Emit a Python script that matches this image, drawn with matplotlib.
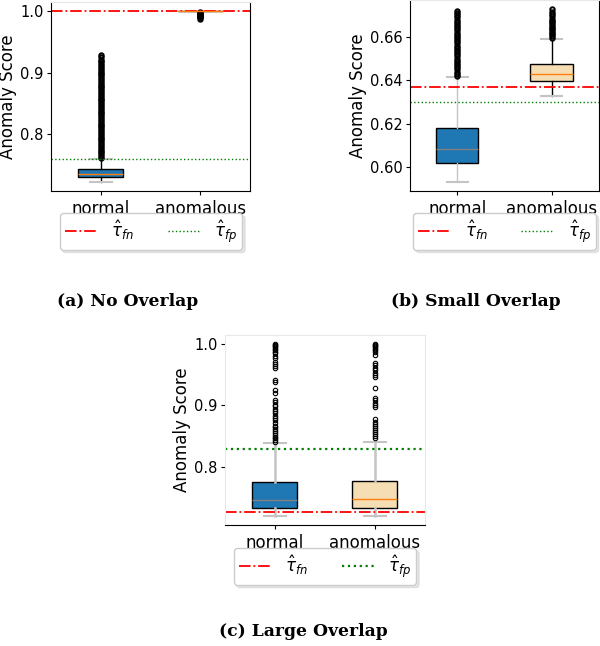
import matplotlib.pyplot as plt

groups = ['normal', 'anomalous']
captions = ['(a) No Overlap', '(b) Small Overlap', '(c) Large Overlap']
legend_labels = [r'$\hat{\tau}_{fn}$', r'$\hat{\tau}_{fp}$']

# ---- (a) no overlap ----
a_normal = dict(whislo=0.7226, q1=0.731, med=0.7355, q3=0.7435, whishi=0.761)
a_normal_fliers = [0.762, 0.765, 0.768, 0.771, 0.774, 0.777, 0.780, 0.783, 0.786, 0.789,
                   0.792, 0.795, 0.798, 0.801, 0.804, 0.807, 0.810, 0.813, 0.816, 0.819,
                   0.822, 0.825, 0.828, 0.831, 0.834, 0.837, 0.840, 0.843, 0.846, 0.849,
                   0.852, 0.855, 0.858, 0.861, 0.864, 0.867, 0.870, 0.873, 0.876, 0.879,
                   0.882, 0.885, 0.888, 0.891, 0.894, 0.897, 0.900, 0.903, 0.906, 0.909,
                   0.912, 0.915, 0.918, 0.921, 0.925, 0.929]
a_anom = dict(whislo=0.9985, q1=0.9993, med=0.9998, q3=1.0, whishi=1.0)
a_anom_fliers = [0.987, 0.989, 0.990, 0.991, 0.992, 0.993, 0.994, 0.995, 0.996, 0.997]
a_tau_fn = 0.9995
a_tau_fp = 0.7597
a_yticks = [0.8, 0.9, 1.0]
a_yticklabels = ['0.8', '0.9', '1.0']

# ---- (b) small overlap ----
b_normal = dict(whislo=0.5929, q1=0.602, med=0.6084, q3=0.618, whishi=0.6417)
b_normal_fliers = [0.642, 0.643, 0.644, 0.645, 0.646, 0.647, 0.648, 0.649, 0.650, 0.651,
                   0.652, 0.653, 0.654, 0.655, 0.656, 0.657, 0.658, 0.659, 0.660, 0.661,
                   0.662, 0.663, 0.664, 0.665, 0.666, 0.667, 0.668, 0.669, 0.670, 0.671,
                   0.6718]
b_anom = dict(whislo=0.6328, q1=0.6397, med=0.6428, q3=0.6474, whishi=0.6591)
b_anom_fliers = [0.6595, 0.6603, 0.6611, 0.6619, 0.6627, 0.6635, 0.6643, 0.6651, 0.6659,
                 0.6667, 0.6675, 0.6684, 0.6694, 0.6705, 0.6716, 0.673]
b_tau_fn = 0.6371
b_tau_fp = 0.6301
b_yticks = [0.60, 0.62, 0.64, 0.66]
b_yticklabels = ['0.60', '0.62', '0.64', '0.66']

# ---- (c) large overlap ----
c_normal = dict(whislo=0.7194, q1=0.7336, med=0.7455, q3=0.7754, whishi=0.838)
c_normal_fliers = [1.000, 0.998, 0.996, 0.994, 0.992, 0.990, 0.987, 0.984, 0.980, 0.977,
                   0.971, 0.967, 0.963, 0.960, 0.941, 0.937, 0.925, 0.920, 0.909, 0.905,
                   0.901, 0.898, 0.894, 0.890, 0.887, 0.883, 0.879, 0.876, 0.871, 0.867,
                   0.864, 0.861, 0.858, 0.855, 0.852, 0.849, 0.846, 0.843, 0.841]
c_anom = dict(whislo=0.7194, q1=0.7336, med=0.7483, q3=0.777, whishi=0.840)
c_anom_fliers = [1.000, 0.998, 0.996, 0.994, 0.992, 0.990, 0.987, 0.982, 0.969, 0.965,
                 0.961, 0.957, 0.953, 0.949, 0.946, 0.928, 0.912, 0.908, 0.904, 0.900,
                 0.897, 0.877, 0.873, 0.870, 0.866, 0.863, 0.860, 0.856, 0.853, 0.850,
                 0.847]
c_tau_fn = 0.7265
c_tau_fp = 0.829
c_yticks = [0.8, 0.9, 1.0]
c_yticklabels = ['0.8', '0.9', '1.0']

LIGHT = '#c4c4c4'
SPINE_LIGHT = '#e8e8e8'
BOX_COLORS = ['#1f77b4', 'wheat']

fig = plt.figure(figsize=(6.0, 6.46), dpi=100)

panels = [
    dict(rect=[0.085, 0.7043, 0.3317, 0.2926], stats=[a_normal, a_anom],
         fliers=[a_normal_fliers, a_anom_fliers], fn=a_tau_fn, fp=a_tau_fp,
         yticks=a_yticks, ylabels=a_yticklabels, meds=['#ff7f0e', '#ff7f0e'],
         whisk=['black', LIGHT], wlw=1.0, light_spines=['top'], fplw=1.0, fmew=1.4,
         leg=(0.2517, 0.6703), cap=(0.212, 0.5263)),
    dict(rect=[0.6833, 0.7043, 0.315, 0.2957], stats=[b_normal, b_anom],
         fliers=[b_normal_fliers, b_anom_fliers], fn=b_tau_fn, fp=b_tau_fp,
         yticks=b_yticks, ylabels=b_yticklabels, meds=['grey', '#ff7f0e'],
         whisk=[LIGHT, 'black'], wlw=1.0, light_spines=['top'], fplw=1.0, fmew=1.4,
         leg=(0.8408, 0.6703), cap=(0.793, 0.5263)),
    dict(rect=[0.375, 0.1873, 0.3333, 0.2941], stats=[c_normal, c_anom],
         fliers=[c_normal_fliers, c_anom_fliers], fn=c_tau_fn, fp=c_tau_fp,
         yticks=c_yticks, ylabels=c_yticklabels, meds=['grey', '#ff7f0e'],
         whisk=[LIGHT, LIGHT], wlw=1.8, light_spines=['top', 'left', 'right'],
         fplw=1.6, fmew=0.8, leg=(0.5417, 0.1517), cap=(0.505, 0.0155)),
]

for p, caption in zip(panels, captions):
    ax = fig.add_axes(p['rect'])
    stats = []
    for s, fl, name in zip(p['stats'], p['fliers'], groups):
        d = dict(s)
        d['fliers'] = fl
        d['label'] = name
        stats.append(d)
    bp = ax.bxp(stats, positions=[1, 2], widths=0.45, patch_artist=True,
                flierprops=dict(marker='o', markerfacecolor='none',
                                markeredgecolor='black', markersize=3.2,
                                markeredgewidth=p['fmew']))
    for box, col in zip(bp['boxes'], BOX_COLORS):
        box.set_facecolor(col)
        box.set_edgecolor('black')
        box.set_linewidth(1.0)
    for med, col in zip(bp['medians'], p['meds']):
        med.set_color(col)
        med.set_linewidth(1.0)
    for i, w in enumerate(bp['whiskers']):
        w.set_color(p['whisk'][i // 2])
        w.set_linewidth(p['wlw'])
    for c in bp['caps']:
        c.set_color(LIGHT)
        c.set_linewidth(1.5)

    ax.axhline(p['fn'], color='red', linestyle='-.', linewidth=1.3, label=legend_labels[0])
    ax.axhline(p['fp'], color='green', linestyle=':', linewidth=p['fplw'], label=legend_labels[1])

    ax.set_yticks(p['yticks'])
    ax.set_yticklabels(p['ylabels'])
    ax.tick_params(axis='y', labelsize=10.5, length=3, pad=2.5)
    ax.tick_params(axis='x', labelsize=12, length=3)
    ax.set_ylabel('Anomaly Score', fontsize=12, labelpad=2)
    for sp in p['light_spines']:
        ax.spines[sp].set_color(SPINE_LIGHT)

    ax.legend(ncol=2, loc='upper center', bbox_to_anchor=p['leg'],
              bbox_transform=fig.transFigure, borderaxespad=0, fontsize=12,
              borderpad=0.3, fancybox=True, shadow={'alpha': 0.12},
              framealpha=1.0, edgecolor='0.8')

    fig.text(p['cap'][0], p['cap'][1], caption, ha='center', va='baseline',
             fontsize=12.3, fontweight='bold', family='DejaVu Serif')

fig.savefig('out.png', dpi=100)
